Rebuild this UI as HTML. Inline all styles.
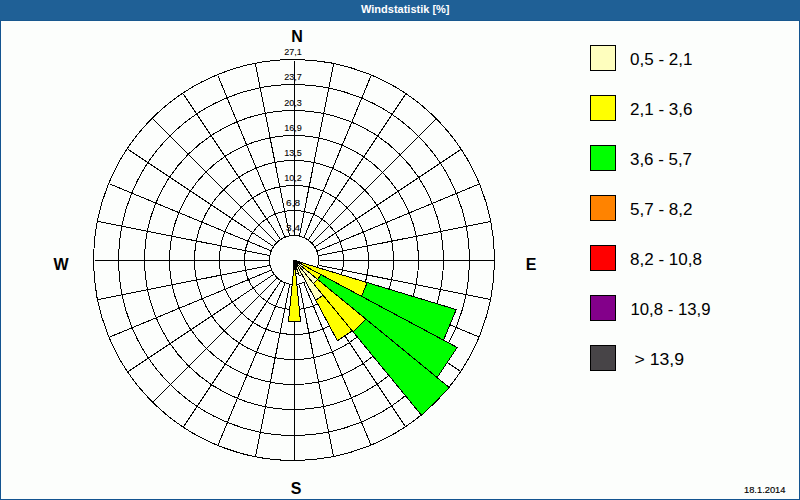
<!DOCTYPE html>
<html><head><meta charset="utf-8"><style>
html,body{margin:0;padding:0;width:800px;height:500px;overflow:hidden;background:#fcfefc}
svg{position:absolute;left:0;top:0}
text{font-family:"Liberation Sans",sans-serif;fill:#000}
.lab{font-size:9.8px;stroke:#000;stroke-width:0.1px}
.leg{font-size:16px}
.dir{font-size:16px;font-weight:bold;text-anchor:middle}
.date{font-size:9.6px;stroke:#000;stroke-width:0.15px}
.ttl{font-size:10px;font-weight:bold;fill:#fff}
</style></head><body>
<svg width="800" height="500" viewBox="0 0 800 500">
<g shape-rendering="crispEdges">
<rect x="0" y="0" width="800" height="20" fill="#1f6096"/>
<rect x="0" y="20" width="800" height="1" fill="#18588f"/>
<rect x="0" y="21" width="1" height="479" fill="#135490"/>
<rect x="799" y="21" width="1" height="479" fill="#135490"/>
<rect x="0" y="499" width="800" height="1" fill="#135490"/>
</g>
<text x="361" y="12.6" class="ttl" textLength="88.5" lengthAdjust="spacingAndGlyphs">Windstatistik [%]</text>
<g fill="none" stroke="#000" stroke-width="1" shape-rendering="crispEdges">
<path d="M294.50 235.50L294.50 60.50M299.38 235.98L333.52 64.34M304.07 237.40L371.04 75.72M308.39 239.71L405.61 94.21M312.18 242.82L435.92 119.08M315.29 246.61L460.79 149.39M317.60 250.93L479.28 183.96M319.02 255.62L490.66 221.48M319.50 260.50L494.50 260.50M319.02 265.38L490.66 299.52M317.60 270.07L479.28 337.04M315.29 274.39L460.79 371.61M312.18 278.18L435.92 401.92M308.39 281.29L405.61 426.79M304.07 283.60L371.04 445.28M299.38 285.02L333.52 456.66M294.50 285.50L294.50 460.50M289.62 285.02L255.48 456.66M284.93 283.60L217.96 445.28M280.61 281.29L183.39 426.79M276.82 278.18L153.08 401.92M273.71 274.39L128.21 371.61M271.40 270.07L109.72 337.04M269.98 265.38L98.34 299.52M269.50 260.50L94.50 260.50M269.98 255.62L98.34 221.48M271.40 250.93L109.72 183.96M273.71 246.61L128.21 149.39M276.82 242.82L153.08 119.08M280.61 239.71L183.39 94.21M284.93 237.40L217.96 75.72M289.62 235.98L255.48 64.34"/>
<circle cx="294" cy="260" r="49.5"/><circle cx="294" cy="260" r="74.5"/><circle cx="294" cy="260" r="99.5"/><circle cx="294" cy="260" r="124.5"/><circle cx="294" cy="260" r="149.5"/><circle cx="294" cy="260" r="175.5"/><circle cx="294" cy="260" r="200.5"/>
<circle cx="294" cy="260" r="24.5" fill="#fcfefc"/>
</g>
<text x="286.10" y="231.0" class="lab" textLength="14.0" lengthAdjust="spacingAndGlyphs">3,4</text><text x="286.10" y="206.0" class="lab" textLength="14.0" lengthAdjust="spacingAndGlyphs">6,8</text><text x="284.30" y="181.0" class="lab" textLength="17.6" lengthAdjust="spacingAndGlyphs">10,2</text><text x="284.30" y="156.0" class="lab" textLength="17.6" lengthAdjust="spacingAndGlyphs">13,5</text><text x="284.30" y="131.0" class="lab" textLength="17.6" lengthAdjust="spacingAndGlyphs">16,9</text><text x="284.30" y="106.0" class="lab" textLength="17.6" lengthAdjust="spacingAndGlyphs">20,3</text><text x="284.30" y="80.0" class="lab" textLength="17.6" lengthAdjust="spacingAndGlyphs">23,7</text><text x="284.30" y="55.0" class="lab" textLength="17.6" lengthAdjust="spacingAndGlyphs">27,1</text>
<g shape-rendering="crispEdges">
<path d="M294.50 260.50 L302.16 262.82 L301.56 264.27 L294.50 260.50Z" fill="#FEFEBE" stroke="#000"/><path d="M302.16 262.82 L367.23 282.56 L361.53 296.33 L301.56 264.27Z" fill="#FFFF00" stroke="#000"/><path d="M367.23 282.56 L456.22 309.56 L443.54 340.17 L361.53 296.33Z" fill="#00FF00" stroke="#000"/><path d="M294.50 260.50 L303.32 265.21 L302.23 266.84 L294.50 260.50Z" fill="#FEFEBE" stroke="#000"/><path d="M303.32 265.21 L320.96 274.64 L317.69 279.53 L302.23 266.84Z" fill="#FFFF00" stroke="#000"/><path d="M320.96 274.64 L457.21 347.47 L437.12 377.55 L317.69 279.53Z" fill="#00FF00" stroke="#000"/><path d="M294.50 260.50 L317.69 279.53 L313.53 283.69 L294.50 260.50Z" fill="#FEFEBE" stroke="#000"/><path d="M317.69 279.53 L366.00 319.18 L353.18 332.00 L313.53 283.69Z" fill="#FFFF00" stroke="#000"/><path d="M366.00 319.18 L449.49 387.70 L421.70 415.49 L353.18 332.00Z" fill="#00FF00" stroke="#000"/><path d="M294.50 260.50 L323.05 295.29 L315.71 300.19 L294.50 260.50Z" fill="#FEFEBE" stroke="#000"/><path d="M323.05 295.29 L352.23 330.84 L337.40 340.75 L315.71 300.19Z" fill="#FFFF00" stroke="#000"/><path d="M294.50 260.50 L302.04 274.61 L299.14 275.81 L294.50 260.50Z" fill="#FEFEBE" stroke="#000"/><path d="M294.50 260.50 L298.27 272.94 L295.77 273.44 L294.50 260.50Z" fill="#FEFEBE" stroke="#000"/><path d="M294.50 260.50 L295.28 268.46 L293.72 268.46 L294.50 260.50Z" fill="#FEFEBE" stroke="#000"/><path d="M295.28 268.46 L300.48 321.21 L288.52 321.21 L293.72 268.46Z" fill="#FFFF00" stroke="#000"/>
<rect x="293" y="260" width="4" height="10" fill="#000"/>
</g>
<text x="297" y="42" class="dir">N</text>
<text x="296" y="493.6" class="dir">S</text>
<text x="61" y="270" class="dir">W</text>
<text x="531" y="270" class="dir">E</text>
<g shape-rendering="crispEdges">
<rect x="590.5" y="45.5" width="25" height="25" fill="#FEFEBE" stroke="#000"/><text x="630" y="65" class="leg" textLength="62.5" lengthAdjust="spacingAndGlyphs">0,5 - 2,1</text><rect x="590.5" y="95.5" width="25" height="25" fill="#FFFF00" stroke="#000"/><text x="630" y="115" class="leg" textLength="62.5" lengthAdjust="spacingAndGlyphs">2,1 - 3,6</text><rect x="590.5" y="145.5" width="25" height="25" fill="#00FF00" stroke="#000"/><text x="630" y="165" class="leg" textLength="62" lengthAdjust="spacingAndGlyphs">3,6 - 5,7</text><rect x="590.5" y="195.5" width="25" height="25" fill="#FF8300" stroke="#000"/><text x="630" y="215" class="leg" textLength="62.5" lengthAdjust="spacingAndGlyphs">5,7 - 8,2</text><rect x="590.5" y="245.5" width="25" height="25" fill="#FF0000" stroke="#000"/><text x="630" y="265" class="leg" textLength="72" lengthAdjust="spacingAndGlyphs">8,2 - 10,8</text><rect x="590.5" y="295.5" width="25" height="25" fill="#83008A" stroke="#000"/><text x="630.5" y="315" class="leg" textLength="80" lengthAdjust="spacingAndGlyphs">10,8 - 13,9</text><rect x="590.5" y="345.5" width="25" height="25" fill="#474447" stroke="#000"/><text x="634.5" y="365" class="leg" textLength="49.5" lengthAdjust="spacingAndGlyphs">&gt; 13,9</text>
</g>
<text x="744" y="493" class="date" textLength="41.5" lengthAdjust="spacingAndGlyphs">18.1.2014</text>
</svg>
</body></html>
